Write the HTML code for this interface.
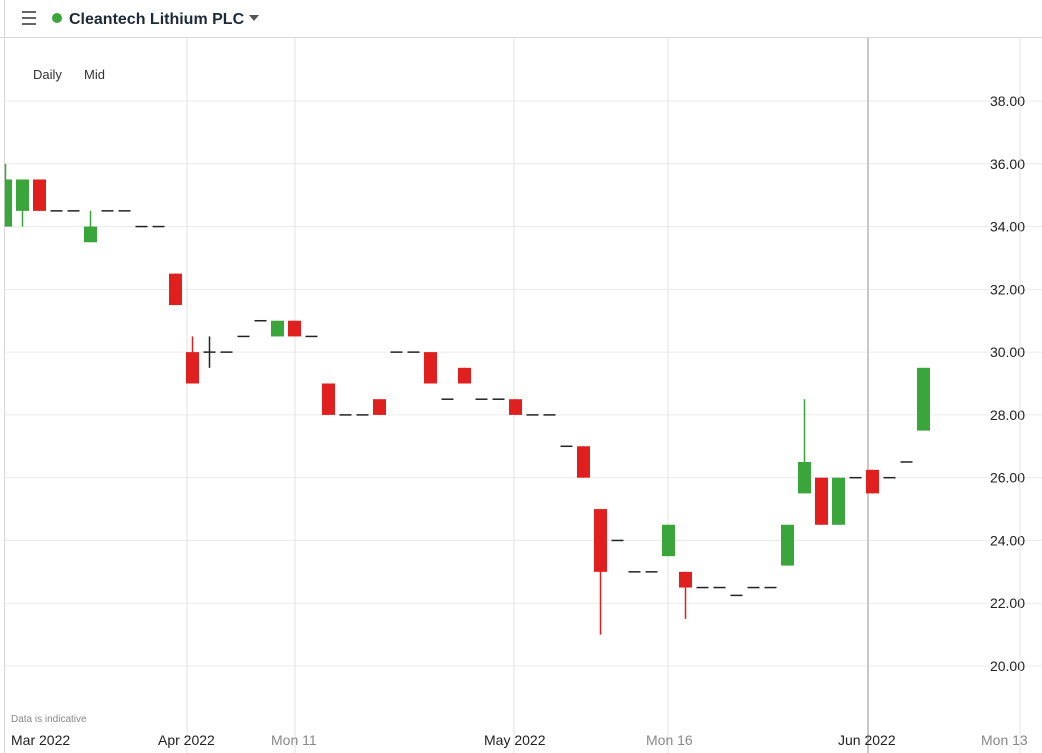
<!DOCTYPE html>
<html><head><meta charset="utf-8"><style>
body{margin:0;width:1042px;height:753px;background:#fff;overflow:hidden;font-family:"Liberation Sans",sans-serif}
</style></head><body>
<svg id="s" width="1042" height="753" xmlns="http://www.w3.org/2000/svg" style="position:absolute;left:0;top:0">
<rect width="1042" height="753" fill="#fff"/>
<line x1="0" y1="37.5" x2="1042" y2="37.5" stroke="#d8d8d8"/>
<line x1="4.5" y1="0" x2="4.5" y2="753" stroke="#d8d8d8"/>
<g stroke="#666" stroke-width="2"><line x1="22" y1="12" x2="36" y2="12"/><line x1="22" y1="18" x2="36" y2="18"/><line x1="22" y1="24" x2="36" y2="24"/></g>
<circle cx="57" cy="18" r="5" fill="#3aa53a"/>
<text x="69" y="24" font-size="16" font-weight="bold" fill="#1e2a38">Cleantech Lithium PLC</text>
<path d="M249 15 L259 15 L254 21 Z" fill="#555"/>
<text x="33" y="79" font-size="13" fill="#333">Daily</text>
<text x="84" y="79" font-size="13" fill="#333">Mid</text>
<text x="11" y="722" font-size="10" fill="#888">Data is indicative</text>
<g id="g"></g>
</svg>
<script>
const g=document.getElementById('g');let h='';
const Y=v=>101+(38-v)*31.39;
for(let v=20;v<=38;v+=2){const y=Y(v);h+=`<line x1="5" y1="${y}" x2="1042" y2="${y}" stroke="#ebebeb"/>`;h+=`<text x="1025" y="${y+5}" font-size="14" text-anchor="end" fill="#222">${v.toFixed(2)}</text>`;}
[[187,'#e3e3e3'],[295,'#e3e3e3'],[514,'#e3e3e3'],[668,'#e3e3e3'],[1020,'#e3e3e3']].forEach(([x,c])=>h+=`<line x1="${x}" y1="38" x2="${x}" y2="753" stroke="${c}"/>`);
h+=`<line x1="868" y1="38" x2="868" y2="753" stroke="#c8c8c8" stroke-width="2"/>`;
const G='#3aa53a',R='#e0201f';
// [o,c,hi,lo]
const d=[[34,35.5,36,34],[34.5,35.5,35.5,34],[35.5,34.5,35.5,34.5],[34.5,34.5],[34.5,34.5],[33.5,34,34.5,33.5],[34.5,34.5],[34.5,34.5],[34,34],[34,34],[32.5,31.5,32.5,31.5],[30,29,30.5,29],[30,30,30.5,29.5],[30,30],[30.5,30.5],[31,31],[30.5,31,31,30.5],[31,30.5,31,30.5],[30.5,30.5],[29,28,29,28],[28,28],[28,28],[28.5,28,28.5,28],[30,30],[30,30],[30,29,30,29],[28.5,28.5],[29.5,29,29.5,29],[28.5,28.5],[28.5,28.5],[28.5,28,28.5,28],[28,28],[28,28],[27,27],[27,26,27,26],[25,23,25,21],[24,24],[23,23],[23,23],[23.5,24.5,24.5,23.5],[23,22.5,23,21.5],[22.5,22.5],[22.5,22.5],[22.25,22.25],[22.5,22.5],[22.5,22.5],[23.2,24.5,24.5,23.2],[25.5,26.5,28.5,25.5],[26,24.5,26,24.5],[24.5,26,26,24.5],[26,26],[26.25,25.5,26.25,25.5],[26,26],[26.5,26.5],[27.5,29.5,29.5,27.5]];
d.forEach((c,i)=>{const x=5.5+17*i;const[o,cl,hi,lo]=c;
if(o===cl&&hi===undefined){h+=`<line x1="${x-6}" y1="${Y(o)}" x2="${x+6}" y2="${Y(o)}" stroke="#222" stroke-width="1.5"/>`;return;}
if(o===cl){h+=`<line x1="${x-6}" y1="${Y(o)}" x2="${x+6}" y2="${Y(o)}" stroke="#222" stroke-width="1.5"/><line x1="${x}" y1="${Y(hi)}" x2="${x}" y2="${Y(lo)}" stroke="#222" stroke-width="1.5"/>`;return;}
const col=cl>o?G:R;const top=Y(Math.max(o,cl)),bot=Y(Math.min(o,cl));
h+=`<line x1="${x}" y1="${Y(hi)}" x2="${x}" y2="${Y(lo)}" stroke="${col}" stroke-width="1.5"/>`;
let x0=Math.max(x-6.5,5);h+=`<rect x="${x0}" y="${top}" width="${x+6.5-x0}" height="${bot-top}" fill="${col}"/>`;});
[[11,'Mar 2022','#222'],[158,'Apr 2022','#222'],[271,'Mon 11','#888'],[484,'May 2022','#222'],[646,'Mon 16','#888'],[838,'Jun 2022','#222'],[981,'Mon 13','#888']].forEach(([x,t,c])=>h+=`<text x="${x}" y="745" font-size="14" fill="${c}">${t}</text>`);
g.innerHTML=h;
</script>
</body></html>
